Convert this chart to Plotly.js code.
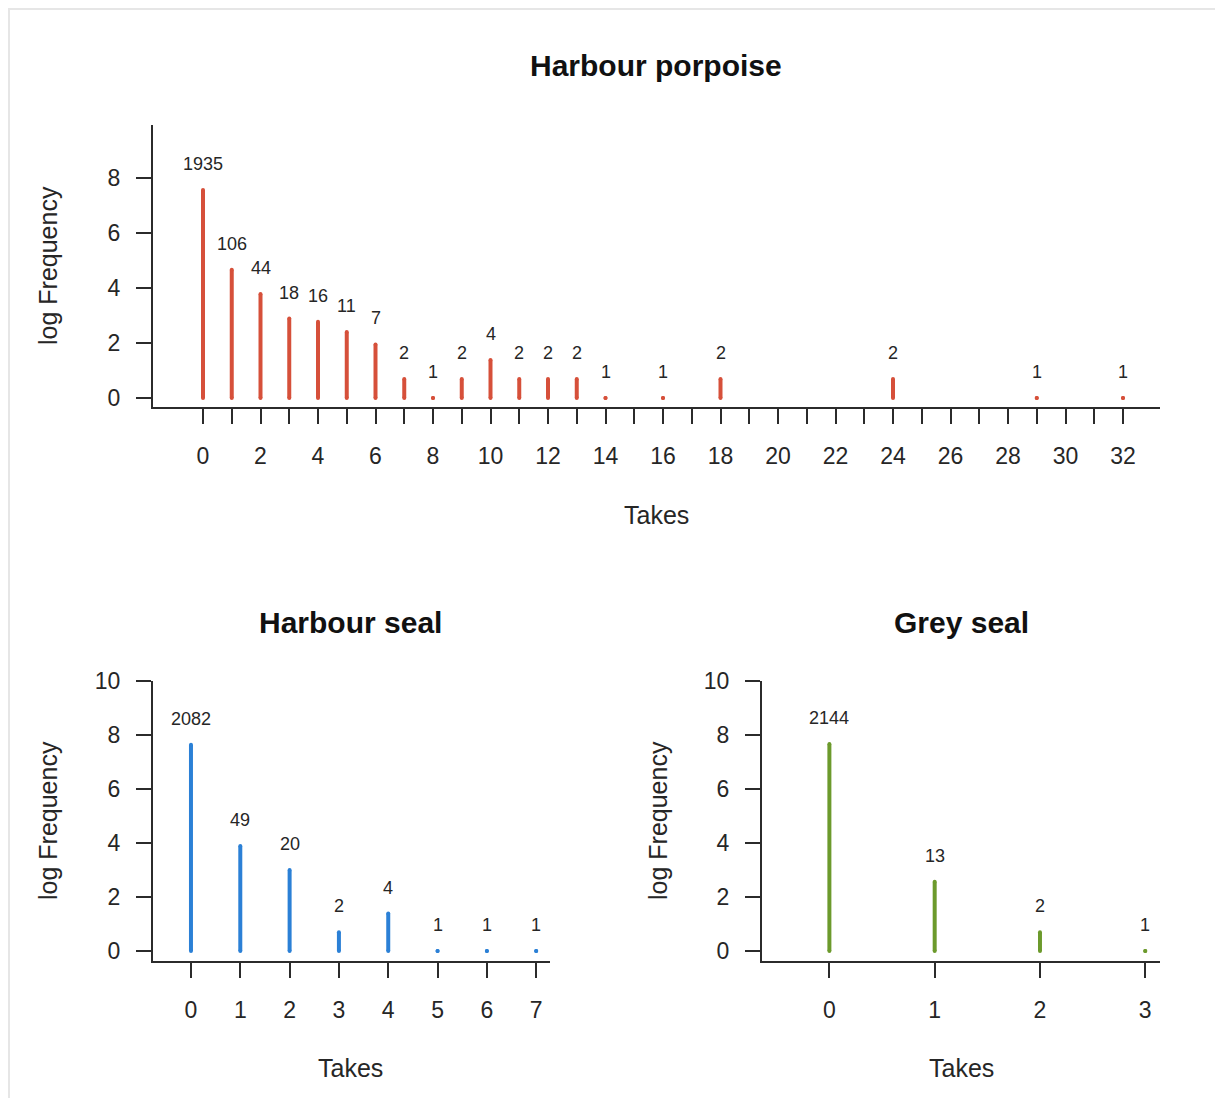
<!DOCTYPE html>
<html>
<head>
<meta charset="utf-8">
<script src="https://cdn.plot.ly/plotly-3.0.1.min.js"></script>
<style>
  html, body { margin: 0; padding: 0; background: #ffffff; }
  #chart { width: 1215px; height: 1098px; }
</style>
</head>
<body>
<div id="chart"></div>
<script>
// ---- data ----
const porpoiseTakes  = [0, 1, 2, 3, 4, 5, 6, 7, 8, 9, 10, 11, 12, 13, 14, 16, 18, 24, 29, 32];
const porpoiseCounts = [1935, 106, 44, 18, 16, 11, 7, 2, 1, 2, 4, 2, 2, 2, 1, 1, 2, 2, 1, 1];

const harbourSealTakes  = [0, 1, 2, 3, 4, 5, 6, 7];
const harbourSealCounts = [2082, 49, 20, 2, 4, 1, 1, 1];

const greySealTakes  = [0, 1, 2, 3];
const greySealCounts = [2144, 13, 2, 1];

// x tick positions for the porpoise panel (every take, labelled every 2)
const porpoiseTickVals = [0, 1, 2, 3, 4, 5, 6, 7, 8, 9, 10, 11, 12, 13, 14, 15, 16,
                          17, 18, 19, 20, 21, 22, 23, 24, 25, 26, 27, 28, 29, 30, 31, 32];
const porpoiseTickText = porpoiseTickVals.map(v => (v % 2 === 0 ? String(v) : ""));

const panelTitles = ["Harbour porpoise", "Harbour seal", "Grey seal"];
const xAxisLabel = "Takes";
const yAxisLabel = "log Frequency";

const colors = ["#d6503a", "#2b80d6", "#6c9a2c"];

// ---- layout geometry (pixels) ----
const W = 1215, H = 1098;
const FONT = "Liberation Sans, Arial, Helvetica, sans-serif";
const TXT = "#262626";
const AX = "#2b2b2b";

function px2x(p) { return p / W; }
function px2y(p) { return 1 - p / H; }

function stems(takes, counts, color, xa, ya) {
  const xs = [], ys = [];
  takes.forEach((t, i) => {
    xs.push(t, t, null);
    ys.push(0, Math.log(counts[i]), null);
  });
  return {
    type: "scatter", mode: "lines+markers",
    x: xs, y: ys, xaxis: xa, yaxis: ya,
    line: { color: color, width: 4 },
    marker: { color: color, size: 4, line: { width: 0 } },
    hoverinfo: "skip", showlegend: false, cliponaxis: false
  };
}

function valueLabels(takes, counts, xref, yref) {
  return takes.map((t, i) => ({
    x: t, y: Math.log(counts[i]), xref: xref, yref: yref,
    text: String(counts[i]), showarrow: false,
    xanchor: "center", yanchor: "middle", yshift: 26,
    font: { family: FONT, size: 18, color: TXT }
  }));
}

function axisCommon() {
  return {
    showgrid: false, zeroline: false,
    showline: true, linecolor: AX, linewidth: 2,
    ticks: "outside", ticklen: 15, tickwidth: 2, tickcolor: AX,
    tickfont: { family: FONT, size: 23, color: TXT },
    fixedrange: true
  };
}

const data = [
  stems(porpoiseTakes, porpoiseCounts, colors[0], "x", "y"),
  stems(harbourSealTakes, harbourSealCounts, colors[1], "x2", "y2"),
  stems(greySealTakes, greySealCounts, colors[2], "x3", "y3")
];

const layout = {
  width: W, height: H,
  margin: { l: 0, r: 0, t: 0, b: 0 },
  paper_bgcolor: "#ffffff", plot_bgcolor: "rgba(0,0,0,0)",
  font: { family: FONT, color: TXT },
  showlegend: false,
  xaxis: Object.assign(axisCommon(), {
    domain: [px2x(153), px2x(1160)], anchor: "y",
    range: [-1.739, 33.287], tickmode: "array",
    tickvals: porpoiseTickVals, ticktext: porpoiseTickText,
    ticklabelstandoff: 12
  }),
  yaxis: Object.assign(axisCommon(), {
    domain: [px2y(407), px2y(125)], anchor: "x",
    range: [-0.327, 9.927], tickmode: "array", tickvals: [0, 2, 4, 6, 8],
    ticklabelstandoff: 11
  }),
  xaxis2: Object.assign(axisCommon(), {
    domain: [px2x(153), px2x(550)], anchor: "y2",
    range: [-0.77, 7.28], tickmode: "linear", tick0: 0, dtick: 1,
    ticklabelstandoff: 12
  }),
  yaxis2: Object.assign(axisCommon(), {
    domain: [px2y(961), px2y(681)], anchor: "x2",
    range: [-0.37, 10], tickmode: "linear", tick0: 0, dtick: 2,
    ticklabelstandoff: 11
  }),
  xaxis3: Object.assign(axisCommon(), {
    domain: [px2x(762), px2x(1160)], anchor: "y3",
    range: [-0.64, 3.14], tickmode: "linear", tick0: 0, dtick: 1,
    ticklabelstandoff: 12
  }),
  yaxis3: Object.assign(axisCommon(), {
    domain: [px2y(961), px2y(681)], anchor: "x3",
    range: [-0.37, 10], tickmode: "linear", tick0: 0, dtick: 2,
    ticklabelstandoff: 11
  }),
  shapes: [{
    type: "rect", xref: "paper", yref: "paper",
    x0: px2x(9), x1: 1.1, y0: -0.1, y1: px2y(9),
    line: { color: "#e6e6e6", width: 2 }, fillcolor: "rgba(0,0,0,0)", layer: "below"
  }],
  annotations: []
};

function paperText(text, xp, yp, size, bold, angle) {
  return {
    xref: "paper", yref: "paper", x: px2x(xp), y: px2y(yp),
    xanchor: "center", yanchor: "middle", showarrow: false,
    text: bold ? "<b>" + text + "</b>" : text, textangle: angle || 0,
    font: { family: FONT, size: size, color: bold ? "#111111" : TXT }
  };
}

layout.annotations.push(
  paperText(panelTitles[0], 656, 66, 30, true),
  paperText(panelTitles[1], 351, 622, 30, true),
  paperText(panelTitles[2], 961, 622, 30, true),
  paperText(xAxisLabel, 656, 515, 25, false),
  paperText(xAxisLabel, 351, 1068, 25, false),
  paperText(xAxisLabel, 961, 1068, 25, false),
  paperText(yAxisLabel, 48, 266, 25, false, -90),
  paperText(yAxisLabel, 48, 821, 25, false, -90),
  paperText(yAxisLabel, 658, 821, 25, false, -90)
);

layout.annotations = layout.annotations
  .concat(valueLabels(porpoiseTakes, porpoiseCounts, "x", "y"))
  .concat(valueLabels(harbourSealTakes, harbourSealCounts, "x2", "y2"))
  .concat(valueLabels(greySealTakes, greySealCounts, "x3", "y3"));

Plotly.newPlot("chart", data, layout, { displayModeBar: false, staticPlot: true });
</script>
</body>
</html>
